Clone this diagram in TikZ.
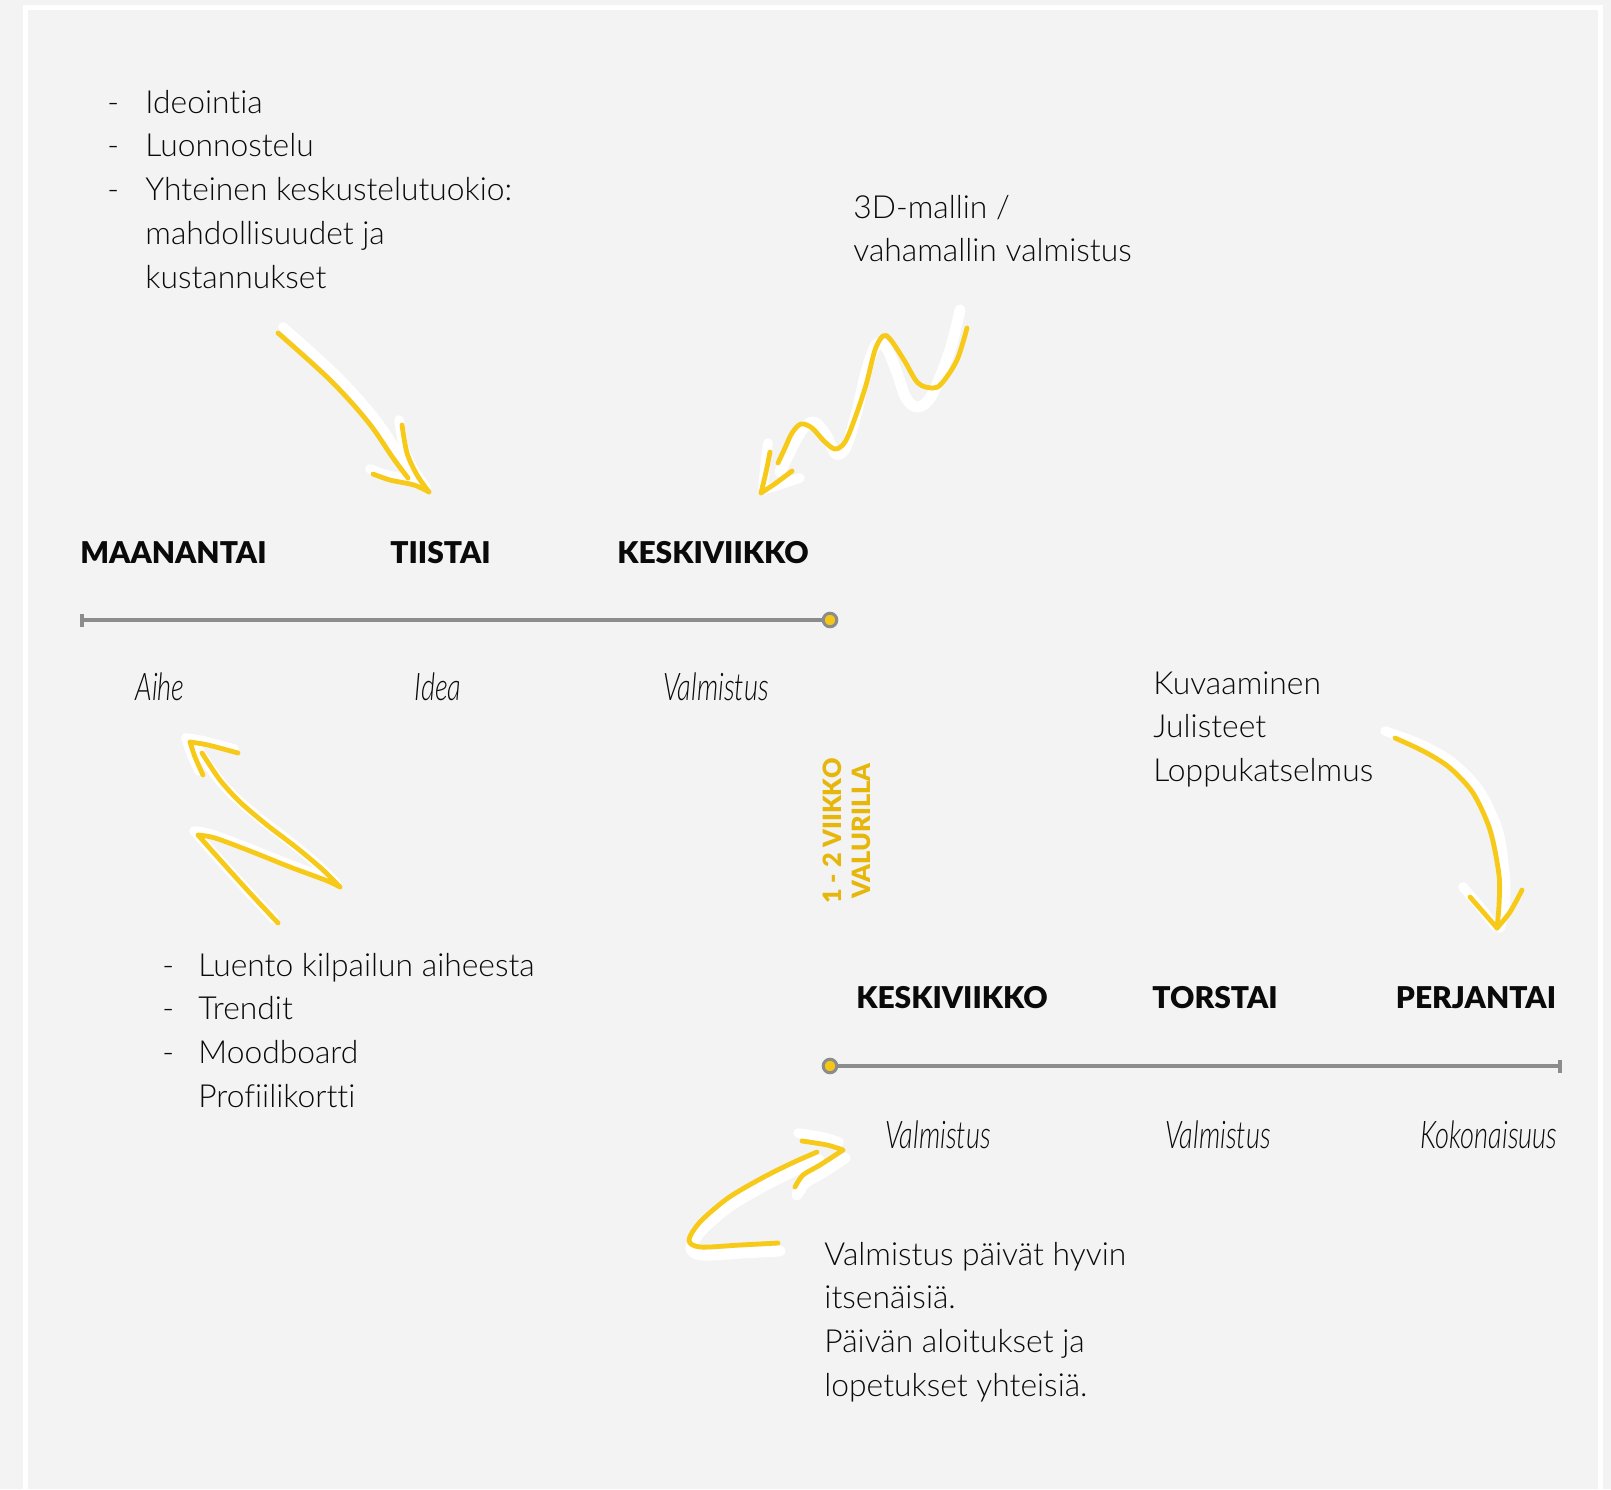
\documentclass[tikz,border=0pt]{standalone}
\usepackage{fontspec}
\usepackage{graphicx}
\setmainfont{Lato Light}[BoldFont={Lato Black}, ItalicFont={Lato Light Italic}, Ligatures=NoCommon]
\definecolor{bg}{RGB}{243,243,243}
\definecolor{tlgray}{RGB}{140,140,140}
\definecolor{ayellow}{RGB}{247,201,24}
\definecolor{dotyellow}{RGB}{245,198,20}
\definecolor{gold}{RGB}{230,183,10}
\definecolor{txt}{RGB}{10,10,10}
\newcommand\myBody{\fontsize{15.9pt}{21.9pt}\selectfont}
\newcommand\myHead{\bfseries\fontsize{15pt}{18pt}\selectfont}
\newcommand\myHand{\itshape\fontsize{17pt}{20pt}\selectfont}
\newcommand\myRot{\bfseries\fontsize{12.6pt}{14.5pt}\selectfont}
\newcommand\myHw[1]{\scalebox{0.8}[1.12]{#1}}
\begin{document}
\begin{tikzpicture}[x=0.5pt,y=-0.5pt,
  body/.style={inner sep=0pt, font=\myBody, text=txt, anchor=base west},
  dayhead/.style={inner sep=0pt, font=\myHead, text=txt, anchor=base},
  hand/.style={inner sep=0pt, font=\myHand, text=txt, anchor=base},
  rottext/.style={inner sep=0pt, font=\myRot, text=gold, rotate=90, align=center},
  tickmark/.style={fill=tlgray, minimum width=1.8pt, minimum height=6.5pt, inner sep=0pt},
  enddot/.style={circle, draw=tlgray, line width=1.5pt, fill=dotyellow, minimum size=6.8pt, inner sep=0pt},
  tline/.style={draw=tlgray, line width=2pt},
  yarrow/.style={draw=ayellow, line width=2.4pt, line cap=round, line join=round},
  warrow/.style={draw=white, line width=4.8pt, line cap=round, line join=round},
]
% background and frame
\path[use as bounding box, fill=bg] (0,0) rectangle (1611,1489);
\draw[white, line width=2.5pt] (25.5,1489) -- (25.5,7) -- (1600,7) -- (1600,1489);

% ---------- texts ----------
\node[body] (listtop) at (107,113) {\begin{tabular}[t]{@{}p{19pt}@{}l@{}}-&Ideointia\\-&Luonnostelu\\-&Yhteinen keskustelutuokio:\\&mahdollisuudet ja\\&kustannukset\end{tabular}};
\node[body] (mallin) at (853,218) {\begin{tabular}[t]{@{}l@{}}3D-mallin /\\vahamallin valmistus\end{tabular}};
\node[body] (listbot) at (162,976) {\begin{tabular}[t]{@{}p{18pt}@{}l@{}}-&Luento kilpailun aiheesta\\-&Trendit\\-&Moodboard\\&Profiilikortti\end{tabular}};
\node[body] (kuva) at (1153,694) {\begin{tabular}[t]{@{}l@{}}Kuvaaminen\\Julisteet\\Loppukatselmus\end{tabular}};
\node[body] (paivat) at (824,1265) {\begin{tabular}[t]{@{}l@{}}Valmistus päivät hyvin\\itsenäisiä.\\Päivän aloitukset ja\\lopetukset yhteisiä.\end{tabular}};
\node[rottext] (valu) at (847,831) {1 - 2 VIIKKO\\VALURILLA};

% ---------- timeline 1 ----------
\node[dayhead] (mon) at (173.5,563) {MAANANTAI};
\node[dayhead] (tue) at (440.5,563) {TIISTAI};
\node[dayhead] (wed1) at (713,563) {KESKIVIIKKO};
\node[tickmark] (t1s) at (82,620) {};
\node[enddot] (t1e) at (830,620) {};
\draw[tline] (t1s.center) -- (t1e);
\node[hand] (aihe) at (160,700) {\myHw{Aihe}};
\node[hand] (idea) at (438,700) {\myHw{Idea}};
\node[hand] (valm1) at (716,700) {\myHw{Valmistus}};

% ---------- timeline 2 ----------
\node[dayhead] (wed2) at (952,1008) {KESKIVIIKKO};
\node[dayhead] (thu) at (1215,1008) {TORSTAI};
\node[dayhead] (fri) at (1476,1008) {PERJANTAI};
\node[enddot] (t2s) at (830,1066) {};
\node[tickmark] (t2e) at (1560,1066) {};
\draw[tline] (t2s) -- (t2e.center);
\node[hand] (valm2) at (938,1148) {\myHw{Valmistus}};
\node[hand] (valm3) at (1218,1148) {\myHw{Valmistus}};
\node[hand] (koko) at (1489,1148) {\myHw{Kokonaisuus}};

% ---------- arrow A (to TIISTAI) ----------
\begin{scope}[shift={(5,-6)}]
\draw[warrow] plot[smooth, tension=0.6] coordinates {(278,333) (330,380) (368,422) (393,458) (408,478)};
\end{scope}
\begin{scope}[shift={(-3,-5)}]
\draw[warrow] plot[smooth] coordinates {(402,425) (407,453) (417,475) (429,492)}
  plot[smooth] coordinates {(373,474) (390,480) (414,485) (429,492)};
\end{scope}
\draw[yarrow] plot[smooth, tension=0.6] coordinates {(278,333) (330,380) (368,422) (393,458) (408,478)};
\draw[yarrow] plot[smooth] coordinates {(402,425) (407,453) (417,475) (429,492)}
  plot[smooth] coordinates {(373,474) (390,480) (414,485) (429,492)};

% ---------- arrow B (zigzag to KESKIVIIKKO) ----------
\draw[warrow, line width=5.5pt] plot[smooth, tension=0.55] coordinates {(960,310) (950,350) (932,395) (918,407) (906,398) (896,370) (886,347) (876,345) (866,372) (856,415) (846,447) (836,454) (826,435) (814,422) (802,430) (790,452) (780,472)};
\draw[warrow] plot[smooth] coordinates {(768,443) (765,466) (763,490)}
  plot[smooth] coordinates {(763,490) (782,484) (800,478)};
\draw[yarrow] plot[smooth, tension=0.55] coordinates {(967,328) (957,360) (942,383) (933,388) (918,383) (904,360) (890,339) (883,336) (875,350) (866,385) (855,418) (845,442) (835,449) (824,441) (812,428) (801,424) (792,433) (785,448) (778,463)};
\draw[yarrow] plot[smooth] coordinates {(770,452) (766,472) (761,493)}
  plot[smooth] coordinates {(761,493) (776,483) (792,471)};

% ---------- arrow C (to Aihe) ----------
\begin{scope}[shift={(-4,-4)}]
\draw[warrow] plot[smooth] coordinates {(278,923) (250,893) (222,862) (198,835)}
  plot[smooth] coordinates {(198,835) (215,838) (250,851) (290,867) (325,880) (340,887)}
  plot[smooth] coordinates {(340,887) (322,869) (297,848) (267,825) (240,802) (220,780) (202,753)}
  plot[smooth] coordinates {(203,775) (195,757) (190,742)}
  plot[smooth] coordinates {(190,742) (208,745) (238,753)};
\end{scope}
\draw[yarrow] plot[smooth] coordinates {(278,923) (250,893) (222,862) (198,835)}
  plot[smooth] coordinates {(198,835) (215,838) (250,851) (290,867) (325,880) (340,887)}
  plot[smooth] coordinates {(340,887) (322,869) (297,848) (267,825) (240,802) (220,780) (202,753)}
  plot[smooth] coordinates {(203,775) (195,757) (190,742)}
  plot[smooth] coordinates {(190,742) (208,745) (238,753)};

% ---------- arrow D (to PERJANTAI) ----------
\draw[warrow] plot[smooth] coordinates {(1385,731) (1420,744) (1452,762) (1479,790) (1498,830) (1505,875) (1505,905) (1500,928)};
\draw[warrow] plot[smooth] coordinates {(1463,887) (1480,907) (1495,926)};
\draw[yarrow] plot[smooth] coordinates {(1395,738) (1425,752) (1450,768) (1473,793) (1490,830) (1499,875) (1499,905) (1497,928)};
\draw[yarrow] plot[smooth] coordinates {(1470,897) (1484,913) (1497,928)}
  plot[smooth] coordinates {(1522,890) (1510,912) (1497,928)};

% ---------- arrow E (to Valmistus) ----------
\begin{scope}[shift={(2,8)}]
\draw[warrow, line width=5.5pt] plot[smooth, tension=0.5] coordinates {(778,1243) (740,1245) (700,1247) (689,1240) (700,1222) (728,1198) (762,1178) (792,1163) (817,1152)}
  plot[smooth] coordinates {(843,1150) (820,1165) (803,1175) (795,1187)};
\end{scope}
\begin{scope}[shift={(-4,-8)}]
\draw[warrow] plot[smooth] coordinates {(802,1141) (827,1145) (843,1150)};
\end{scope}
\draw[yarrow] plot[smooth, tension=0.5] coordinates {(778,1243) (740,1245) (700,1247) (689,1240) (700,1222) (728,1198) (762,1178) (792,1163) (817,1152)};
\draw[yarrow] plot[smooth] coordinates {(802,1141) (827,1145) (843,1150)}
  plot[smooth] coordinates {(843,1150) (820,1165) (803,1175) (795,1187)};
\end{tikzpicture}
\end{document}
